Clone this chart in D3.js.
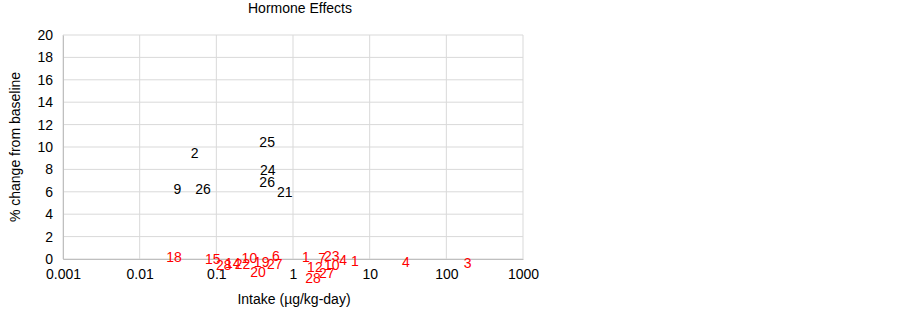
<!DOCTYPE html>
<html>
<head>
<meta charset="utf-8">
<script src="https://cdn.jsdelivr.net/npm/d3@7"></script>
<style>
  body { margin: 0; background: #fff; }
  text { font-family: "Liberation Sans", Arial, sans-serif; }
</style>
</head>
<body>
<script>
// Hormone Effects - labels drawn as the points themselves

var xTicks = [0.001, 0.01, 0.1, 1, 10, 100, 1000];
var xTickLabels = ["0.001", "0.01", "0.1", "1", "10", "100", "1000"];
var yTicks = [0, 2, 4, 6, 8, 10, 12, 14, 16, 18, 20];

// black series (label, intake, % change)
var blackLabels = ["2", "25", "24", "26", "21", "9", "26"];
var blackX = [0.052, 0.46, 0.47, 0.46, 0.78, 0.031, 0.067];
var blackY = [9.5, 10.4, 7.9, 6.9, 6.0, 6.2, 6.2];

// red series
var redLabels = ["18", "15", "28", "14", "22", "10", "20", "19", "6", "27",
                 "1", "7", "23", "4", "12", "10", "28", "27", "1", "4", "3"];
var redX = [0.028, 0.09, 0.125, 0.164, 0.22, 0.27, 0.35, 0.39, 0.60, 0.58,
            1.47, 2.4, 3.2, 4.5, 1.93, 3.2, 1.82, 2.75, 6.4, 29.7, 190];
var redY = [0.2, 0.0, -0.5, -0.4, -0.45, 0.1, -1.2, -0.25, 0.3, -0.45,
            0.2, 0.1, 0.25, -0.1, -0.7, -0.5, -1.7, -1.25, -0.2, -0.3, -0.35];

var width = 903, height = 309;
var margin = {top: 35, right: 380, bottom: 50, left: 63};
var fs = 14;

var svg = d3.select(document.body)
  .append("svg")
  .attr("width", width)
  .attr("height", height);

var x = d3.scaleLog()
  .domain([0.001, 1000])
  .range([margin.left, width - margin.right]);

var y = d3.scaleLinear()
  .domain([0, 20])
  .range([height - margin.bottom, margin.top]);

// gridlines
var grid = svg.append("g").attr("class", "grid");
grid.selectAll("line.v")
  .data(xTicks)
  .enter().append("line")
  .attr("x1", function (d) { return x(d); })
  .attr("x2", function (d) { return x(d); })
  .attr("y1", y(0))
  .attr("y2", y(20))
  .attr("stroke", "#d9d9d9")
  .attr("stroke-width", 1);
grid.selectAll("line.h")
  .data(yTicks)
  .enter().append("line")
  .attr("x1", x(0.001))
  .attr("x2", x(1000))
  .attr("y1", function (d) { return y(d); })
  .attr("y2", function (d) { return y(d); })
  .attr("stroke", "#d9d9d9")
  .attr("stroke-width", 1);

// axes
var xAxis = d3.axisBottom(x)
  .tickValues(xTicks)
  .tickFormat(function (d, i) { return xTickLabels[i]; })
  .tickSize(0)
  .tickPadding(10);
var gx = svg.append("g")
  .attr("transform", "translate(0," + y(0) + ")")
  .call(xAxis);
gx.select(".domain").attr("stroke", "#bfbfbf");
gx.selectAll("text").attr("font-size", fs).attr("fill", "#000")
  .attr("font-family", "Liberation Sans, Arial, sans-serif");

var yAxis = d3.axisLeft(y)
  .tickValues(yTicks)
  .tickSize(0)
  .tickPadding(10);
var gy = svg.append("g")
  .attr("transform", "translate(" + x(0.001) + ",0)")
  .call(yAxis);
gy.select(".domain").attr("stroke", "#bfbfbf");
gy.selectAll("text").attr("font-size", fs).attr("fill", "#000")
  .attr("font-family", "Liberation Sans, Arial, sans-serif");

// titles
svg.append("text")
  .attr("x", 300)
  .attr("y", 13)
  .attr("text-anchor", "middle")
  .attr("font-size", fs)
  .text("Hormone Effects");

svg.append("text")
  .attr("x", 294)
  .attr("y", 304)
  .attr("text-anchor", "middle")
  .attr("font-size", fs)
  .text("Intake (\u00b5g/kg-day)");

svg.append("text")
  .attr("transform", "translate(20," + ((y(0) + y(20)) / 2) + ") rotate(-90)")
  .attr("text-anchor", "middle")
  .attr("font-size", fs)
  .text("% change from baseline");

// point labels
function drawLabels(labels, xs, ys, color) {
  svg.append("g")
    .selectAll("text")
    .data(labels)
    .enter().append("text")
    .attr("x", function (d, i) { return x(xs[i]); })
    .attr("y", function (d, i) { return y(ys[i]); })
    .attr("dy", "0.35em")
    .attr("text-anchor", "middle")
    .attr("font-size", fs)
    .attr("fill", color)
    .text(function (d) { return d; });
}

drawLabels(blackLabels, blackX, blackY, "#000");
drawLabels(redLabels, redX, redY, "#ff0000");
</script>
</body>
</html>
